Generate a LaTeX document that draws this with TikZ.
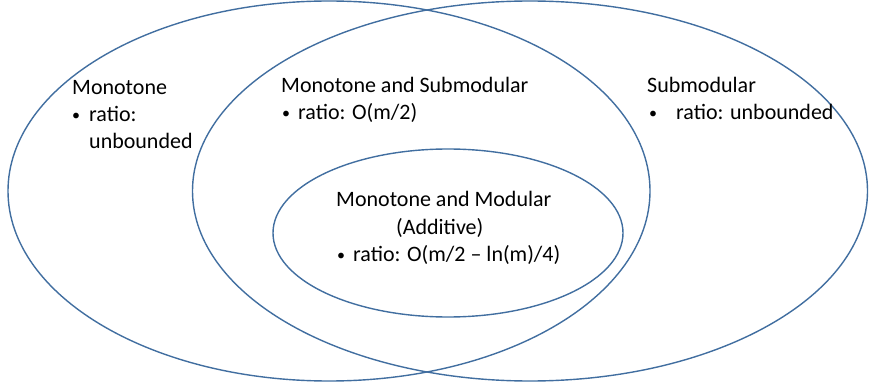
\documentclass[tikz,border=0pt]{standalone}
\usepackage{fontspec}
\setmainfont{Carlito}
\definecolor{edge}{RGB}{65,110,160}
\begin{document}
\begin{tikzpicture}[x=1pt,y=-1pt,
  venn/.style={draw=edge,line width=1.4pt},
  lbl/.style={anchor=base west,inner sep=0pt,font=\fontsize{22}{26}\selectfont,text=black},
  bul/.style={anchor=base west,inner sep=0pt,font=\fontsize{16}{20}\selectfont,text=black}]
\useasboundingbox (0,0) rectangle (869,387);
% ellipses
\draw[venn] (329,191) ellipse [x radius=321pt, y radius=190pt];
\draw[venn] (530,191) ellipse [x radius=337.5pt, y radius=190pt];
\draw[venn] (448,233) ellipse [x radius=175pt, y radius=84pt];
% left region
\node[lbl] (mono) at (72,95) {Monotone};
\node[bul] (monob) at (72,121) {•};
\node[lbl] (monor) at (89,122) {ratio:};
\node[lbl] (monou) at (89,149) {unbounded};
% middle region
\node[lbl] (ms) at (281,93) {Monotone and Submodular};
\node[bul] (msb) at (282,119) {•};
\node[lbl] (msr) at (298,120) {ratio: O(m/2)};
% right region
\node[lbl] (sub) at (647,93) {Submodular};
\node[bul] (subb) at (649,119) {•};
\node[lbl] (subr) at (676,120) {ratio: unbounded};
% inner region
\node[lbl] (mm) at (336,207) {Monotone and Modular};
\node[lbl] (mma) at (396,234) {(Additive)};
\node[bul] (mmb) at (337,260) {•};
\node[lbl] (mmr) at (353,261) {ratio: O(m/2 – ln(m)/4)};
\end{tikzpicture}
\end{document}
